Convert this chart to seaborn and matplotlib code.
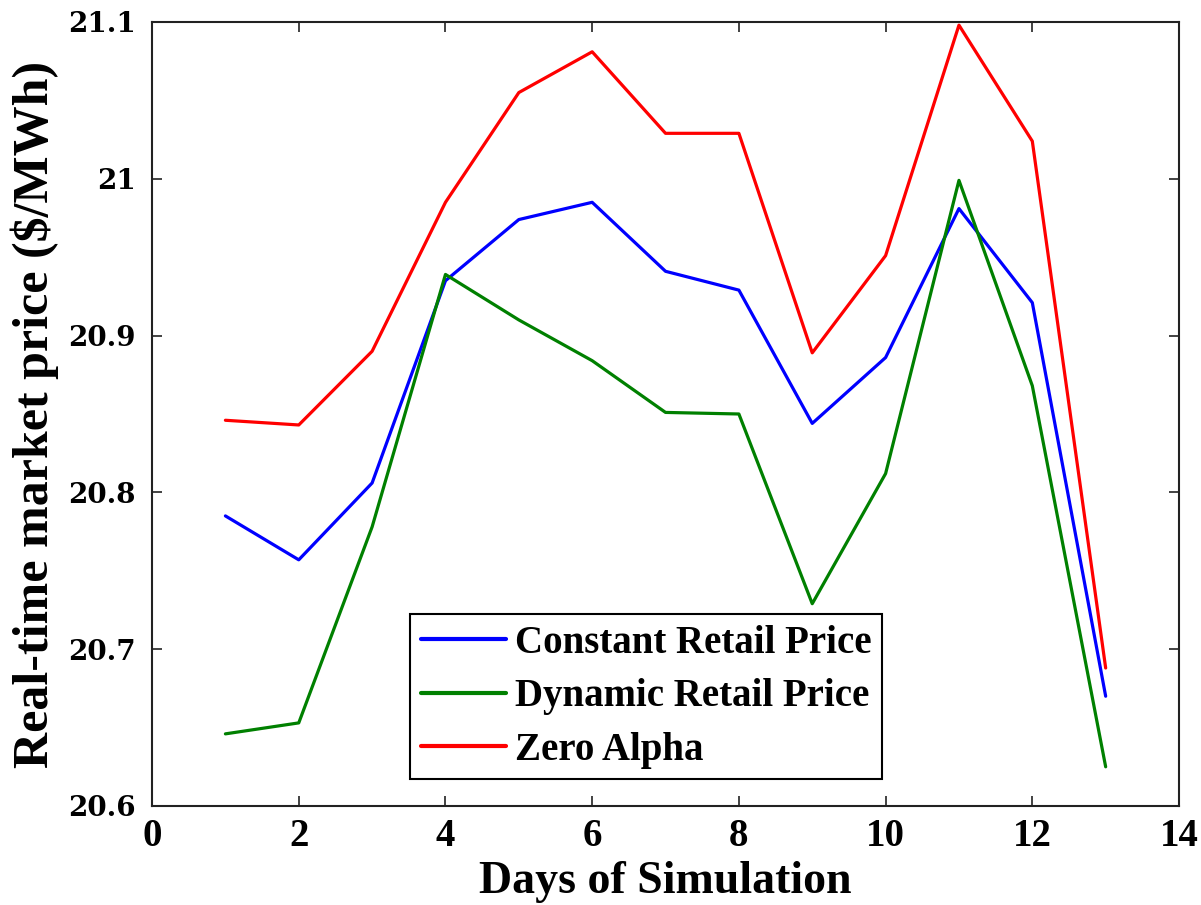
import matplotlib
matplotlib.use("Agg")
import matplotlib.pyplot as plt
import seaborn as sns
import pandas as pd

days = [1, 2, 3, 4, 5, 6, 7, 8, 9, 10, 11, 12, 13]
constant_retail = [20.785, 20.757, 20.806, 20.935, 20.974, 20.985, 20.941,
                   20.929, 20.844, 20.886, 20.981, 20.921, 20.670]
dynamic_retail = [20.646, 20.653, 20.778, 20.939, 20.910, 20.884, 20.851,
                  20.850, 20.729, 20.812, 20.999, 20.868, 20.625]
zero_alpha = [20.846, 20.843, 20.890, 20.985, 21.055, 21.081, 21.029,
              21.029, 20.889, 20.951, 21.098, 21.024, 20.688]
series_names = ["Constant Retail Price", "Dynamic Retail Price", "Zero Alpha"]
series_colors = ["#0000ff", "#008000", "#ff0000"]
x_ticks = [0, 2, 4, 6, 8, 10, 12, 14]
y_ticks = [20.6, 20.7, 20.8, 20.9, 21.0, 21.1]
y_tick_labels = ["20.6", "20.7", "20.8", "20.9", "21", "21.1"]

sns.set_theme(style="white")
plt.rcParams["font.family"] = ["Liberation Serif", "DejaVu Serif"]
plt.rcParams["text.color"] = "black"
plt.rcParams["axes.labelcolor"] = "black"
plt.rcParams["xtick.color"] = "black"
plt.rcParams["ytick.color"] = "black"

df = pd.DataFrame({
    "day": days * 3,
    "price": constant_retail + dynamic_retail + zero_alpha,
    "series": sum([[n] * len(days) for n in series_names], []),
})

fig = plt.figure(figsize=(12.01, 9.05), dpi=100)
ax = fig.add_axes([0.1266, 0.1094, 0.8551, 0.8663])

sns.lineplot(data=df, x="day", y="price", hue="series", hue_order=series_names,
             palette=series_colors, linewidth=2.3, ax=ax, legend=True)

ax.set_xlim(0, 14)
ax.set_ylim(20.6, 21.1)
ax.set_xticks(x_ticks)
ax.set_xticklabels([str(t) for t in x_ticks], fontsize=28, fontweight="bold",
                   family="Liberation Serif")
ax.set_yticks(y_ticks)
ax.set_yticklabels(y_tick_labels, fontsize=20, fontweight="bold",
                   family="DejaVu Serif")
ax.tick_params(axis="both", direction="in", length=7, width=1.2, color="#222222",
               labelcolor="black", top=True, right=True, bottom=True, left=True)
ax.tick_params(axis="y", pad=12)
ax.tick_params(axis="x", pad=9)
for s in ax.spines.values():
    s.set_visible(True)
    s.set_color("#222222")
    s.set_linewidth(1.5)

ax.set_xlabel("Days of Simulation", fontsize=33, fontweight="bold", labelpad=4,
              color="black")
ax.set_ylabel("Real-time market price ($/MWh)", fontsize=36, fontweight="bold",
              labelpad=6, color="black")

handles, labels = ax.get_legend_handles_labels()
leg = ax.legend(handles, labels, loc="lower left", bbox_to_anchor=(0.2515, 0.0344),
                borderaxespad=0, fancybox=False, framealpha=1, edgecolor="black",
                prop={"family": "Liberation Serif", "weight": "bold", "size": 28},
                handlelength=2.2, handletextpad=0.22, labelspacing=0.42,
                borderpad=0.27, labelcolor="black")
leg.get_frame().set_linewidth(1.5)
for ln in leg.get_lines():
    ln.set_linewidth(3)

fig.savefig("out.png", dpi=100)
